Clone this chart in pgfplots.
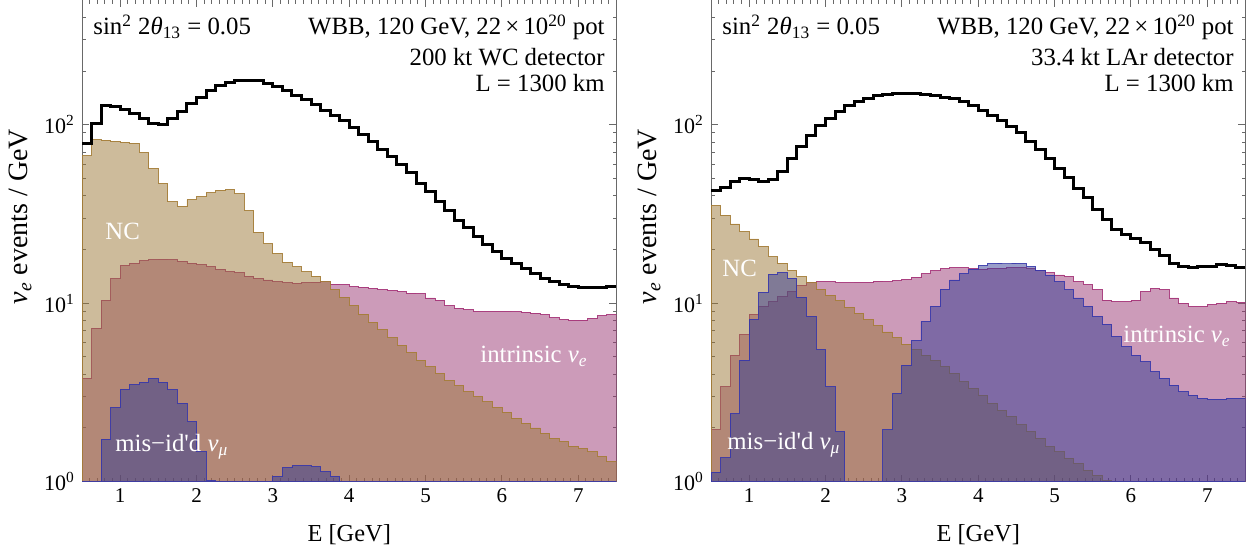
\documentclass[border=0pt]{standalone}
\usepackage{fontspec}
\setmainfont{Liberation Serif}
\usepackage{pgfplots}
\pgfplotsset{compat=1.18}
\usepackage{pgfplotstable}

\definecolor{ncc}{RGB}{155,119,55}
\definecolor{pkc}{RGB}{153,55,115}
\definecolor{blc}{RGB}{52,59,147}
\definecolor{ncedge}{RGB}{165,125,55}
\definecolor{pkedge}{RGB}{165,50,120}
\definecolor{bledge}{RGB}{55,55,170}
\definecolor{framec}{RGB}{105,105,105}

\pgfplotstableread{
x lblack lnc lpink lblue rblack rnc rpink rblue
0.5 78 67 3.8 0.5 42.7 35.3 1.95 1.13
0.625 102 82.5 7.25 0.5 44.3 31.2 3.4 1.36
0.75 128 82 10.4 1.73 47.9 27.8 5.1 2.4
0.875 126 81 13.7 2.6 49.8 25.2 6.7 4.8
1 121 80 16.3 3.3 49.4 22.9 8.7 8.1
1.125 115 79 16.8 3.5 48.3 20.8 9.6 11.5
1.25 108 70 17.3 3.6 49.4 18.2 10.2 14.5
1.375 102 57 17.5 3.77 55 16.8 10.9 14.8
1.5 100 47 17.6 3.6 64.4 15.3 11.6 13.8
1.625 109 37 17.5 3.27 75.6 14.1 12.6 10.8
1.75 118 35 17.2 2.75 86.7 13.0 13.0 8.4
1.875 132 38 16.8 2.17 98.5 12.0 13.2 5.5
2 143 39.5 16.4 1.47 109 11.1 13.2 3.4
2.125 155 41.5 16.0 1.01 118.5 10.3 13.0 1.9
2.25 165 43 15.5 0.5 128 9.5 13.0 0.5
2.375 173 43.5 15.0 0.5 135 8.8 13.1 0.5
2.5 178 41 14.8 0.5 141 8.1 13.1 0.5
2.625 178 33 14.2 0.5 145 7.5 13.3 0.5
2.75 176 25 13.8 0.5 148.5 6.9 13.2 1.95
2.875 170 21.5 13.5 0.5 150.6 6.4 13.4 3.13
3 163 19 13.2 1.07 150.6 5.9 13.6 4.5
3.125 155 17 13.0 1.2 149 5.5 14.0 6.2
3.25 146 16 12.9 1.23 147.5 5.1 14.6 7.9
3.375 138 15 13.0 1.23 145.5 4.8 15.2 9.6
3.5 129 14.2 13.1 1.21 143 4.42 15.6 12.0
3.625 120 13.2 13.2 1.14 139.5 4.05 15.8 13.5
3.75 112 12.0 12.8 1.07 134.5 3.64 15.8 14.6
3.875 105 10.8 12.7 0.5 128.2 3.34 15.6 15.5
4 97 9.7 12.4 0.5 120.5 3.06 15.5 16.2
4.125 88 8.7 12.3 0.5 113 2.75 15.6 16.6
4.25 81 7.8 12.1 0.5 106 2.52 15.7 16.8
4.375 73 7.1 11.9 0.5 98.3 2.32 15.8 16.8
4.5 66 6.4 11.8 0.5 90 2.08 15.8 16.6
4.625 60 5.8 11.6 0.5 81 1.91 15.6 16.0
4.75 54 5.3 11.4 0.5 72.6 1.75 15.3 15.3
4.875 47 4.8 11.3 0.5 64.4 1.57 14.8 14.3
5 42 4.4 10.7 0.5 57.2 1.47 14.4 13.2
5.125 37 4.05 10.4 0.5 50.4 1.35 14.1 11.9
5.25 33 3.7 9.7 0.5 44.2 1.27 13.2 10.7
5.375 29 3.45 9.4 0.5 39.0 1.16 12.7 9.6
5.5 26.4 3.2 9.2 0.5 33.7 1.09 11.9 8.4
5.625 23.6 3.0 9.0 0.5 29.4 1.01 10.4 7.6
5.75 21.2 2.8 9.0 0.5 26.0 0.5 10.2 6.5
5.875 19.5 2.6 9.0 0.5 24.2 0.5 10.2 5.7
6 17.9 2.45 9.0 0.5 22.9 0.5 10.4 5.1
6.125 16.8 2.27 8.95 0.5 21.9 0.5 11.6 4.7
6.25 15.7 2.13 8.9 0.5 20.1 0.5 12.1 4.14
6.375 14.7 2.0 8.8 0.5 18.4 0.5 11.9 3.8
6.5 13.8 1.87 8.6 0.5 16.8 0.5 10.7 3.48
6.625 13.2 1.75 8.3 0.5 16.1 0.5 10.0 3.2
6.75 12.7 1.68 8.1 0.5 15.8 0.5 9.6 3.06
6.875 12.4 1.58 8.05 0.5 16.1 0.5 9.6 2.93
7 12.2 1.53 8.05 0.5 16.1 0.5 9.8 2.9
7.125 12.2 1.47 8.25 0.5 16.4 0.5 10.0 2.9
7.25 12.3 1.38 8.5 0.5 16.2 0.5 10.2 2.93
7.375 12.4 1.3 8.6 0.5 15.8 0.5 10.1 2.93
7.5 12.4 1.3 8.6 0.5 15.8 0.5 10.1 2.93
}\data

\tikzset{
  myann/.style={font=\fontsize{12.4}{14}\selectfont, inner sep=0pt},
  mylab/.style={font=\fontsize{12.4}{14}\selectfont, inner sep=0pt, text=white, anchor=base west},
}

\begin{document}
\begin{tikzpicture}
\useasboundingbox (0,0) rectangle (626.5pt,275pt);
\begin{axis}[at={(41pt,34.15pt)}, anchor=south west,
    scale only axis, width=267.25pt, height=240.85pt,
    ymode=log, xmin=0.5, xmax=7.5, ymin=1, ymax=500,
    xtick={1,2,3,4,5,6,7},
    xticklabels={1,2,3,4,5,6,7},
    minor xtick={0.6,0.7,...,7.45},
    ytick={1,10,100},
    yticklabels={10\textsuperscript{0},10\textsuperscript{1},10\textsuperscript{2}},
    minor ytick={2,3,4,5,6,7,8,9,20,30,40,50,60,70,80,90,200,300,400},
    tick align=inside, major tick length=3.5pt, minor tick length=1.8pt,
    axis line style={framec, line width=0.5pt},
    tick style={framec, line width=0.5pt},
    xticklabel style={font=\fontsize{10.5}{12}\selectfont},
    yticklabel style={font=\fontsize{11}{13}\selectfont},
    xlabel={E [GeV]},
    xlabel style={at={(axis description cs:0.5,-0.1107)}, anchor=center, font=\fontsize{12.2}{14}\selectfont},
    ylabel={\textit{ν}\textsubscript{\textit{e}} events / GeV},
    ylabel style={at={(axis description cs:-0.116,0.55)}, anchor=center, font=\fontsize{14}{16}\selectfont},
  ]
\addplot[const plot mark left, fill=pkc, fill opacity=0.5, draw=pkedge, draw opacity=0.9, line width=0.45pt] table[x=x,y=lpink]{\data} \closedcycle;
\addplot[const plot mark left, fill=ncc, fill opacity=0.5, draw=ncedge, draw opacity=0.9, line width=0.45pt] table[x=x,y=lnc]{\data} \closedcycle;
\addplot[const plot mark left, fill=blc, fill opacity=0.5, draw=bledge, draw opacity=0.9, line width=0.45pt] table[x=x,y=lblue]{\data} \closedcycle;
\addplot[const plot mark left, black, line width=1.5pt] table[x=x,y=lblack]{\data};
\node[myann, anchor=base west] at (rel axis cs:0.0206,0.9273) {sin\textsuperscript{2} 2\textit{θ}\textsubscript{13} = 0.05};
\node[myann, anchor=base east] at (rel axis cs:0.9785,0.9273) {WBB, 120 GeV, 22\,×\,10\textsuperscript{20} pot};
\node[myann, anchor=base east] at (rel axis cs:0.9785,0.865) {200 kt WC detector};
\node[myann, anchor=base east] at (rel axis cs:0.9785,0.8096) {L = 1300 km};
\node[mylab] at (rel axis cs:0.043,0.5018) {NC};
\node[mylab] at (rel axis cs:0.7446,0.2464) {intrinsic \textit{ν}\textsubscript{\textit{e}}};
\node[mylab] at (rel axis cs:0.0617,0.0623) {mis−id\textquotesingle d \textit{ν}\textsubscript{\textit{μ}}};
\end{axis}
\begin{axis}[at={(355.5pt,34.15pt)}, anchor=south west,
    scale only axis, width=267.25pt, height=240.85pt,
    ymode=log, xmin=0.5, xmax=7.5, ymin=1, ymax=500,
    xtick={1,2,3,4,5,6,7},
    xticklabels={1,2,3,4,5,6,7},
    minor xtick={0.6,0.7,...,7.45},
    ytick={1,10,100},
    yticklabels={10\textsuperscript{0},10\textsuperscript{1},10\textsuperscript{2}},
    minor ytick={2,3,4,5,6,7,8,9,20,30,40,50,60,70,80,90,200,300,400},
    tick align=inside, major tick length=3.5pt, minor tick length=1.8pt,
    axis line style={framec, line width=0.5pt},
    tick style={framec, line width=0.5pt},
    xticklabel style={font=\fontsize{10.5}{12}\selectfont},
    yticklabel style={font=\fontsize{11}{13}\selectfont},
    xlabel={E [GeV]},
    xlabel style={at={(axis description cs:0.5,-0.1107)}, anchor=center, font=\fontsize{12.2}{14}\selectfont},
    ylabel={\textit{ν}\textsubscript{\textit{e}} events / GeV},
    ylabel style={at={(axis description cs:-0.116,0.55)}, anchor=center, font=\fontsize{14}{16}\selectfont},
  ]
\addplot[const plot mark left, fill=pkc, fill opacity=0.5, draw=pkedge, draw opacity=0.9, line width=0.45pt] table[x=x,y=rpink]{\data} \closedcycle;
\addplot[const plot mark left, fill=ncc, fill opacity=0.5, draw=ncedge, draw opacity=0.9, line width=0.45pt] table[x=x,y=rnc]{\data} \closedcycle;
\addplot[const plot mark left, fill=blc, fill opacity=0.5, draw=bledge, draw opacity=0.9, line width=0.45pt] table[x=x,y=rblue]{\data} \closedcycle;
\addplot[const plot mark left, black, line width=1.5pt] table[x=x,y=rblack]{\data};
\node[myann, anchor=base west] at (rel axis cs:0.0206,0.9273) {sin\textsuperscript{2} 2\textit{θ}\textsubscript{13} = 0.05};
\node[myann, anchor=base east] at (rel axis cs:0.9785,0.9273) {WBB, 120 GeV, 22\,×\,10\textsuperscript{20} pot};
\node[myann, anchor=base east] at (rel axis cs:0.9785,0.865) {33.4 kt LAr detector};
\node[myann, anchor=base east] at (rel axis cs:0.9785,0.8096) {L = 1300 km};
\node[mylab] at (rel axis cs:0.0206,0.427) {NC};
\node[mylab] at (rel axis cs:0.771,0.288) {intrinsic \textit{ν}\textsubscript{\textit{e}}};
\node[mylab] at (rel axis cs:0.030,0.0658) {mis−id\textquotesingle d \textit{ν}\textsubscript{\textit{μ}}};
\end{axis}
\end{tikzpicture}
\end{document}
